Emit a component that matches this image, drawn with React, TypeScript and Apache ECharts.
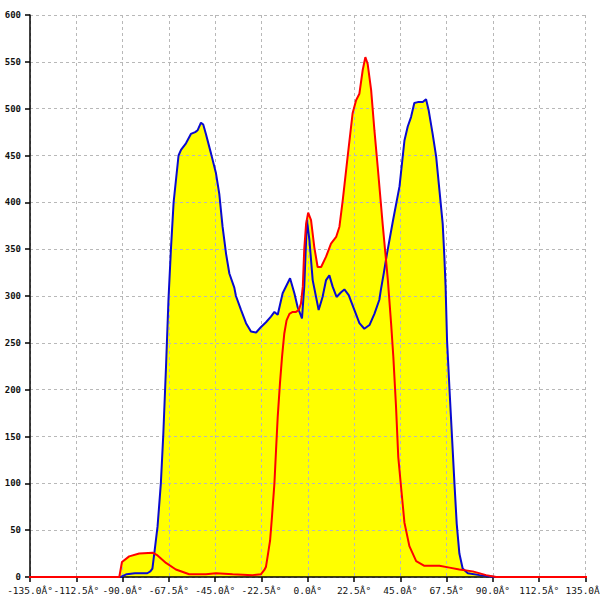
import React, { useEffect, useRef } from "react";
import * as echarts from "echarts";

const blueAngles = [
  -91, -90, -88, -84, -78, -76.5, -75.5, -74.6, -73, -71.4, -70.2, -68.9, -67.7, -66.5, -65.2, -62.8, -61.6,
  -59.2, -56.8, -54.7, -53.5, -51.9, -50.8, -49.5, -47, -44.6, -43, -41.4, -39.7, -38.1, -35.7, -34.9, -32.4,
  -30, -27.6, -25.1, -22.7, -20.3, -17.9, -16.2, -14.6, -12.2, -8.6, -6.5, -4.9, -2.8, -1.7, -0.4, 0.8, 2.4,
  5.3, 7.2, 8.9, 10.5, 12.1, 14, 16.2, 17.8, 19.9, 22.7, 25.1, 27.5, 30, 32.4, 34.8, 35.5, 37, 38.5, 41.3,
  44.6, 47, 48.6, 50.2, 51.8, 53.5, 55.9, 57.5, 58.8, 60.7, 62.4, 64, 65.6, 66.4, 67, 67.7, 68.9, 70.2, 71.3,
  72.4, 73.7, 75.3, 77.8, 83.5, 90, 91,
];
const blueValues = [
  0, 1, 3, 4, 4, 6, 9, 25, 54, 100, 153, 224, 296, 350, 400, 450, 456,
  463, 473, 475, 477, 485, 483, 473, 452, 431, 409, 374, 345, 324, 309, 300, 285,
  271, 262, 261, 267, 272, 278, 283, 280, 303, 319, 303, 288, 276, 310, 381, 360, 317,
  285, 299, 317, 322, 310, 299, 304, 307, 301, 285, 271, 265, 269, 281, 296, 306, 325, 345, 379,
  417, 466, 481, 491, 506, 507, 507, 510, 498, 473, 449, 413, 377, 342, 310, 253, 200, 146, 100,
  57, 25, 9, 4, 2, 0.3, 0,
];

const redAngles = [
  -150, -91.6, -90.3, -86.8, -81.9, -75.4, -73, -68.9, -64.1, -57.6, -49.5, -44.6, -36.5, -26.8, -22.7,
  -21.1, -20.3, -19.5, -18.3, -17.4, -16.2, -15.4, -14.6, -13.5, -12.5, -11.4, -10.3, -8.9, -7.3, -5.7,
  -4.4, -3.3, -2.4, -1.7, -0.8, 0.2, 1.6, 3.2, 4.8, 6.5, 8.9, 11.3, 13.8, 15.4, 17, 19.4, 21.8, 23.5,
  25.1, 26.7, 28, 29.1, 30.8, 32.4, 34, 36.4, 38.9, 40.5, 41.6, 42.9, 44, 45.4, 47, 49.4, 52.7, 56.7,
  64, 68.9, 73.7, 80.2, 86.7, 91.6, 150,
];
const redValues = [
  0, 0, 16, 22, 25, 26, 23, 15, 8, 3, 3, 4, 3, 2, 3,
  7.5, 11, 22, 39, 64, 100, 136, 171, 207, 235, 260, 274, 281, 283, 283,
  285, 292, 310, 350, 377, 389, 381, 352, 331, 331, 342, 356, 363, 374, 402, 449, 495, 509,
  516, 541, 555, 548, 520, 477, 438, 377, 318, 271, 235, 182, 128, 95, 58, 33, 17, 12,
  12, 10, 8, 6, 2, 0, 0,
];

const xMin = -135;
const xMax = 135;
const xStep = 22.5;
const yMin = 0;
const yMax = 600;
const yStep = 50;

const zip = (a: number[], b: number[]) => a.map((x, i) => [x, b[i]]);

export default function App() {
  const ref = useRef<HTMLDivElement>(null);
  useEffect(() => {
    if (!ref.current) return;
    const chart = echarts.init(ref.current, undefined, { renderer: "svg" });
    const blue = zip(blueAngles, blueValues);
    const red = zip(redAngles, redValues);
    const gridLine = { show: true, lineStyle: { color: "#b8b8b8", type: [3, 3] as any, width: 1 } };
    chart.setOption({
      animation: false,
      backgroundColor: "#ffffff",
      grid: {
        left: 30,
        right: 14.5,
        top: 15,
        bottom: 23,
        containLabel: false,
        outerBoundsMode: "none",
      } as any,
      xAxis: {
        type: "value",
        min: xMin,
        max: xMax,
        interval: xStep,
        z: 3,
        axisLine: { show: true, onZero: false, lineStyle: { color: "#000", width: 1.5 } },
        axisTick: { show: true, length: 5, lineStyle: { color: "#000", width: 1.5 } },
        axisLabel: {
          margin: 8,
          interval: 0,
          fontFamily: "DejaVu Sans Mono",
          fontSize: 9.5,
          color: "#111",
          formatter: (v: number) => v.toFixed(1) + "Â°",
          showMinLabel: true,
          showMaxLabel: true,
          hideOverlap: false,
        },
        splitLine: gridLine,
      },
      yAxis: {
        type: "value",
        min: yMin,
        max: yMax,
        interval: yStep,
        z: 3,
        axisLine: { show: true, onZero: false, lineStyle: { color: "#000", width: 1.5 } },
        axisTick: { show: true, length: 5, lineStyle: { color: "#000", width: 1.5 } },
        axisLabel: {
          margin: 9,
          fontFamily: "DejaVu Sans Mono",
          fontSize: 9,
          fontWeight: "bold",
          color: "#111",
        },
        splitLine: gridLine,
      },
      series: [
        {
          type: "line",
          data: blue,
          z: 1,
          showSymbol: false,
          lineStyle: { width: 0 },
          areaStyle: { color: "#ffff00", opacity: 1 },
          silent: true,
        },
        {
          type: "line",
          data: red,
          z: 1,
          showSymbol: false,
          clip: false,
          lineStyle: { width: 0 },
          areaStyle: { color: "#ffff00", opacity: 1 },
          silent: true,
        },
        {
          type: "line",
          data: blue,
          z: 5,
          showSymbol: false,
          lineStyle: { color: "#0a0ad0", width: 2 },
        },
        {
          type: "line",
          data: red,
          z: 6,
          showSymbol: false,
          clip: false,
          lineStyle: { color: "#ff0000", width: 2 },
        },
      ],
    });
    return () => chart.dispose();
  }, []);
  return <div ref={ref} style={{ width: 600, height: 600, position: "absolute", left: 0, top: 0 }} />;
}
